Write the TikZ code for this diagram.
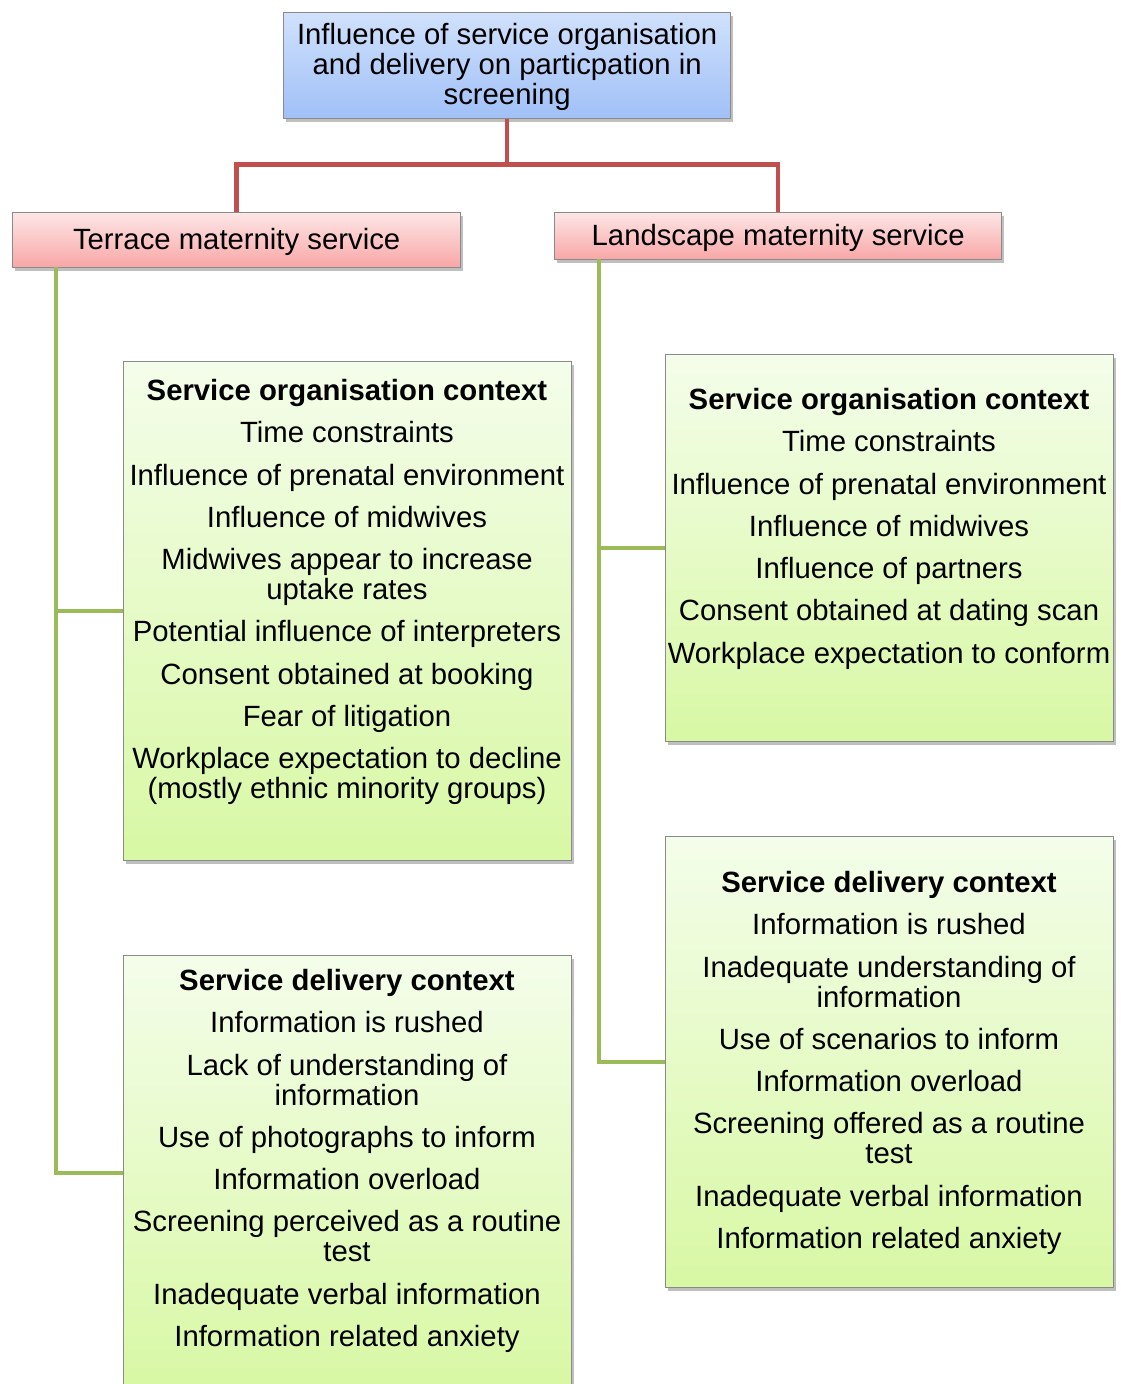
\documentclass[tikz,border=0pt]{standalone}
\usepackage{fontspec}
\setmainfont{Liberation Sans}
\usetikzlibrary{shadows}
\definecolor{rline}{HTML}{C0504D}
\definecolor{gline}{HTML}{9BBB59}
\definecolor{bordc}{HTML}{8A8A8A}
\begin{document}
\begin{tikzpicture}[x=1pt,y=-1pt,
  box/.style={draw=bordc, line width=1.3pt, anchor=north west, inner sep=0pt,
    drop shadow={shadow xshift=2pt, shadow yshift=-3pt, opacity=0.25, fill=black}},
  bluebox/.style={box, top color={rgb,255:red,208;green,225;blue,252}, bottom color={rgb,255:red,160;green,192;blue,247}},
  pinkbox/.style={box, top color={rgb,255:red,253;green,230;blue,230}, bottom color={rgb,255:red,249;green,166;blue,166}},
  greenbox/.style={box, top color={rgb,255:red,244;green,253;blue,234}, bottom color={rgb,255:red,216;green,248;blue,164}},
  txt/.style={align=center, inner sep=0pt, font=\fontsize{29.3}{30}\selectfont, text=black},
  redc/.style={draw=rline, line width=4.5pt},
  grnc/.style={draw=gline, line width=4pt}]
\useasboundingbox (0,0) rectangle (1121,1384);
% boxes
\node[bluebox, minimum width=447pt, minimum height=106pt] (top) at (283,12) {};
\node[pinkbox, minimum width=448pt, minimum height=55pt] (terr) at (12,212) {};
\node[pinkbox, minimum width=447pt, minimum height=47pt] (land) at (554,212) {};
\node[greenbox, minimum width=448pt, minimum height=499pt] (lorg) at (123,361) {};
\node[greenbox, minimum width=448pt, minimum height=434pt] (ldel) at (123,955) {};
\node[greenbox, minimum width=448pt, minimum height=387pt] (rorg) at (665,354) {};
\node[greenbox, minimum width=448pt, minimum height=451pt] (rdel) at (665,836) {};
% connectors
\draw[redc] (top.south) -- ++(0,45) coordinate (rj) -| (terr.north);
\draw[redc] (rj) -| (land.north);
\coordinate (lt) at (56,267);
\coordinate (rt) at (599,259);
\draw[grnc] (lt) |- (lorg.west);
\draw[grnc] (lt) |- (ldel.west);
\draw[grnc] (rt) |- (rorg.west);
\draw[grnc] (rt) |- (rdel.west);
% texts
\node[txt] (topt) at ([yshift=-1pt]top.center) {Influence of service organisation\\and delivery on particpation in\\screening};
\node[txt] (terrt) at ([yshift=-2pt]terr.center) {Terrace maternity service};
\node[txt] (landt) at ([yshift=-2pt]land.center) {Landscape maternity service};
\node[txt, anchor=north] (lorgt) at (347,379) {\textbf{Service organisation context}\\[12.3pt]
Time constraints\\[12.3pt]
Influence of prenatal environment\\[12.3pt]
Influence of midwives\\[12.3pt]
Midwives appear to increase\\uptake rates\\[12.3pt]
Potential influence of interpreters\\[12.3pt]
Consent obtained at booking\\[12.3pt]
Fear of litigation\\[12.3pt]
Workplace expectation to decline\\(mostly ethnic minority groups)};
\node[txt, anchor=north] (ldelt) at (347,969) {\textbf{Service delivery context}\\[12.3pt]
Information is rushed\\[12.3pt]
Lack of understanding of\\information\\[12.3pt]
Use of photographs to inform\\[12.3pt]
Information overload\\[12.3pt]
Screening perceived as a routine\\test\\[12.3pt]
Inadequate verbal information\\[12.3pt]
Information related anxiety};
\node[txt, anchor=north] (rorgt) at (889,388) {\textbf{Service organisation context}\\[12.3pt]
Time constraints\\[12.3pt]
Influence of prenatal environment\\[12.3pt]
Influence of midwives\\[12.3pt]
Influence of partners\\[12.3pt]
Consent obtained at dating scan\\[12.3pt]
Workplace expectation to conform};
\node[txt, anchor=north] (rdelt) at (889,871) {\textbf{Service delivery context}\\[12.3pt]
Information is rushed\\[12.3pt]
Inadequate understanding of\\information\\[12.3pt]
Use of scenarios to inform\\[12.3pt]
Information overload\\[12.3pt]
Screening offered as a routine\\test\\[12.3pt]
Inadequate verbal information\\[12.3pt]
Information related anxiety};
\end{tikzpicture}
\end{document}
